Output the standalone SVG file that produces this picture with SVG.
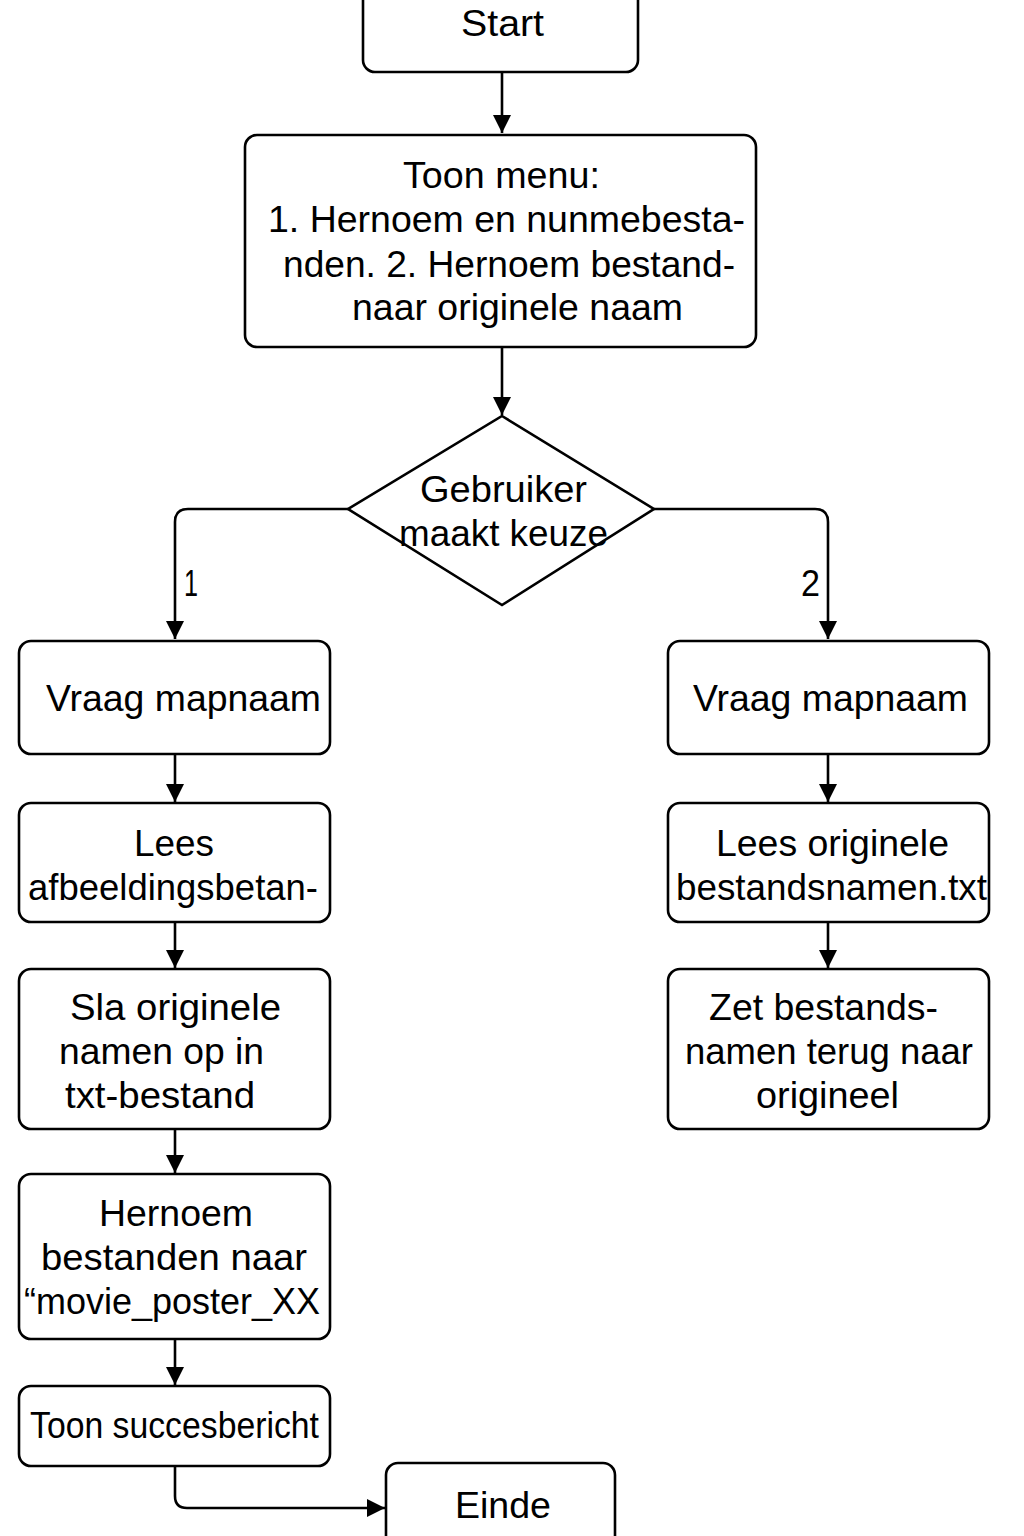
<svg xmlns="http://www.w3.org/2000/svg" width="1024" height="1536" viewBox="0 0 1024 1536">
<style>
.n{fill:#fff;stroke:#000;stroke-width:2.6}
.c{fill:none;stroke:#000;stroke-width:2.6}
text{font-family:"Liberation Sans",Arial,sans-serif;font-size:37px;fill:#000}
</style>
<defs>
<marker id="ah" viewBox="0 0 18 18" refX="18" refY="9" markerWidth="18" markerHeight="18" markerUnits="userSpaceOnUse" orient="auto">
<path d="M0,0 L18,9 L0,18 z" fill="#000"/>
</marker>
</defs>
<rect width="1024" height="1536" fill="#fff"/>
<g id="connectors">
<path class="c" d="M502,72 V133" marker-end="url(#ah)"/>
<path class="c" d="M502,347 V415" marker-end="url(#ah)"/>
<path class="c" d="M348,509 H188 Q175,509 175,522 V639" marker-end="url(#ah)"/>
<path class="c" d="M654,509 H815 Q828,509 828,522 V639" marker-end="url(#ah)"/>
<path class="c" d="M175,754 V802" marker-end="url(#ah)"/>
<path class="c" d="M175,922 V968" marker-end="url(#ah)"/>
<path class="c" d="M175,1129 V1173" marker-end="url(#ah)"/>
<path class="c" d="M175,1339 V1385" marker-end="url(#ah)"/>
<path class="c" d="M175,1466 V1496 Q175,1508 187,1508 H385" marker-end="url(#ah)"/>
<path class="c" d="M828,754 V802" marker-end="url(#ah)"/>
<path class="c" d="M828,922 V968" marker-end="url(#ah)"/>
<text x="184" y="596" textLength="14" lengthAdjust="spacingAndGlyphs">1</text>
<text x="801" y="596" textLength="19" lengthAdjust="spacingAndGlyphs">2</text>
</g>
<g id="start">
<rect class="n" x="363" y="-12" width="275" height="84" rx="12"/>
<text x="461" y="36" textLength="83" lengthAdjust="spacingAndGlyphs">Start</text>
</g>
<g id="menu">
<rect class="n" x="245" y="135" width="511" height="212" rx="12"/>
<text x="403" y="188" textLength="197" lengthAdjust="spacingAndGlyphs">Toon menu:</text>
<text x="268" y="232" textLength="477" lengthAdjust="spacingAndGlyphs">1. Hernoem en nunmebesta-</text>
<text x="283" y="277" textLength="452" lengthAdjust="spacingAndGlyphs">nden. 2. Hernoem bestand-</text>
<text x="352" y="320" textLength="331" lengthAdjust="spacingAndGlyphs">naar originele naam</text>
</g>
<g id="keuze">
<path class="n" d="M502,416 L654,509 L502,605 L348,509 Z"/>
<text x="420" y="502" textLength="167" lengthAdjust="spacingAndGlyphs">Gebruiker</text>
<text x="399" y="546" textLength="209" lengthAdjust="spacingAndGlyphs">maakt keuze</text>
</g>
<g id="vraag1">
<rect class="n" x="19" y="641" width="311" height="113" rx="12"/>
<text x="46" y="711" textLength="275" lengthAdjust="spacingAndGlyphs">Vraag mapnaam</text>
</g>
<g id="lees1">
<rect class="n" x="19" y="803" width="311" height="119" rx="12"/>
<text x="134" y="856" textLength="80" lengthAdjust="spacingAndGlyphs">Lees</text>
<text x="28" y="900" textLength="290" lengthAdjust="spacingAndGlyphs">afbeeldingsbetan-</text>
</g>
<g id="sla">
<rect class="n" x="19" y="969" width="311" height="160" rx="12"/>
<text x="70" y="1020" textLength="211" lengthAdjust="spacingAndGlyphs">Sla originele</text>
<text x="59" y="1064" textLength="205" lengthAdjust="spacingAndGlyphs">namen op in</text>
<text x="65" y="1108" textLength="190" lengthAdjust="spacingAndGlyphs">txt-bestand</text>
</g>
<g id="hernoem">
<rect class="n" x="19" y="1174" width="311" height="165" rx="12"/>
<text x="99" y="1226" textLength="154" lengthAdjust="spacingAndGlyphs">Hernoem</text>
<text x="41" y="1270" textLength="266" lengthAdjust="spacingAndGlyphs">bestanden naar</text>
<text x="24" y="1314" textLength="296" lengthAdjust="spacingAndGlyphs">“movie_poster_XX</text>
</g>
<g id="succes">
<rect class="n" x="19" y="1386" width="311" height="80" rx="12"/>
<text x="30" y="1438" textLength="289" lengthAdjust="spacingAndGlyphs">Toon succesbericht</text>
</g>
<g id="einde">
<rect class="n" x="386" y="1463" width="229" height="90" rx="12"/>
<text x="455" y="1518" textLength="96" lengthAdjust="spacingAndGlyphs">Einde</text>
</g>
<g id="vraag2">
<rect class="n" x="668" y="641" width="321" height="113" rx="12"/>
<text x="693" y="711" textLength="275" lengthAdjust="spacingAndGlyphs">Vraag mapnaam</text>
</g>
<g id="lees2">
<rect class="n" x="668" y="803" width="321" height="119" rx="12"/>
<text x="716" y="856" textLength="233" lengthAdjust="spacingAndGlyphs">Lees originele</text>
<text x="676" y="900" textLength="311" lengthAdjust="spacingAndGlyphs">bestandsnamen.txt</text>
</g>
<g id="zet">
<rect class="n" x="668" y="969" width="321" height="160" rx="12"/>
<text x="709" y="1020" textLength="229" lengthAdjust="spacingAndGlyphs">Zet bestands-</text>
<text x="685" y="1064" textLength="288" lengthAdjust="spacingAndGlyphs">namen terug naar</text>
<text x="756" y="1108" textLength="143" lengthAdjust="spacingAndGlyphs">origineel</text>
</g>
</svg>
